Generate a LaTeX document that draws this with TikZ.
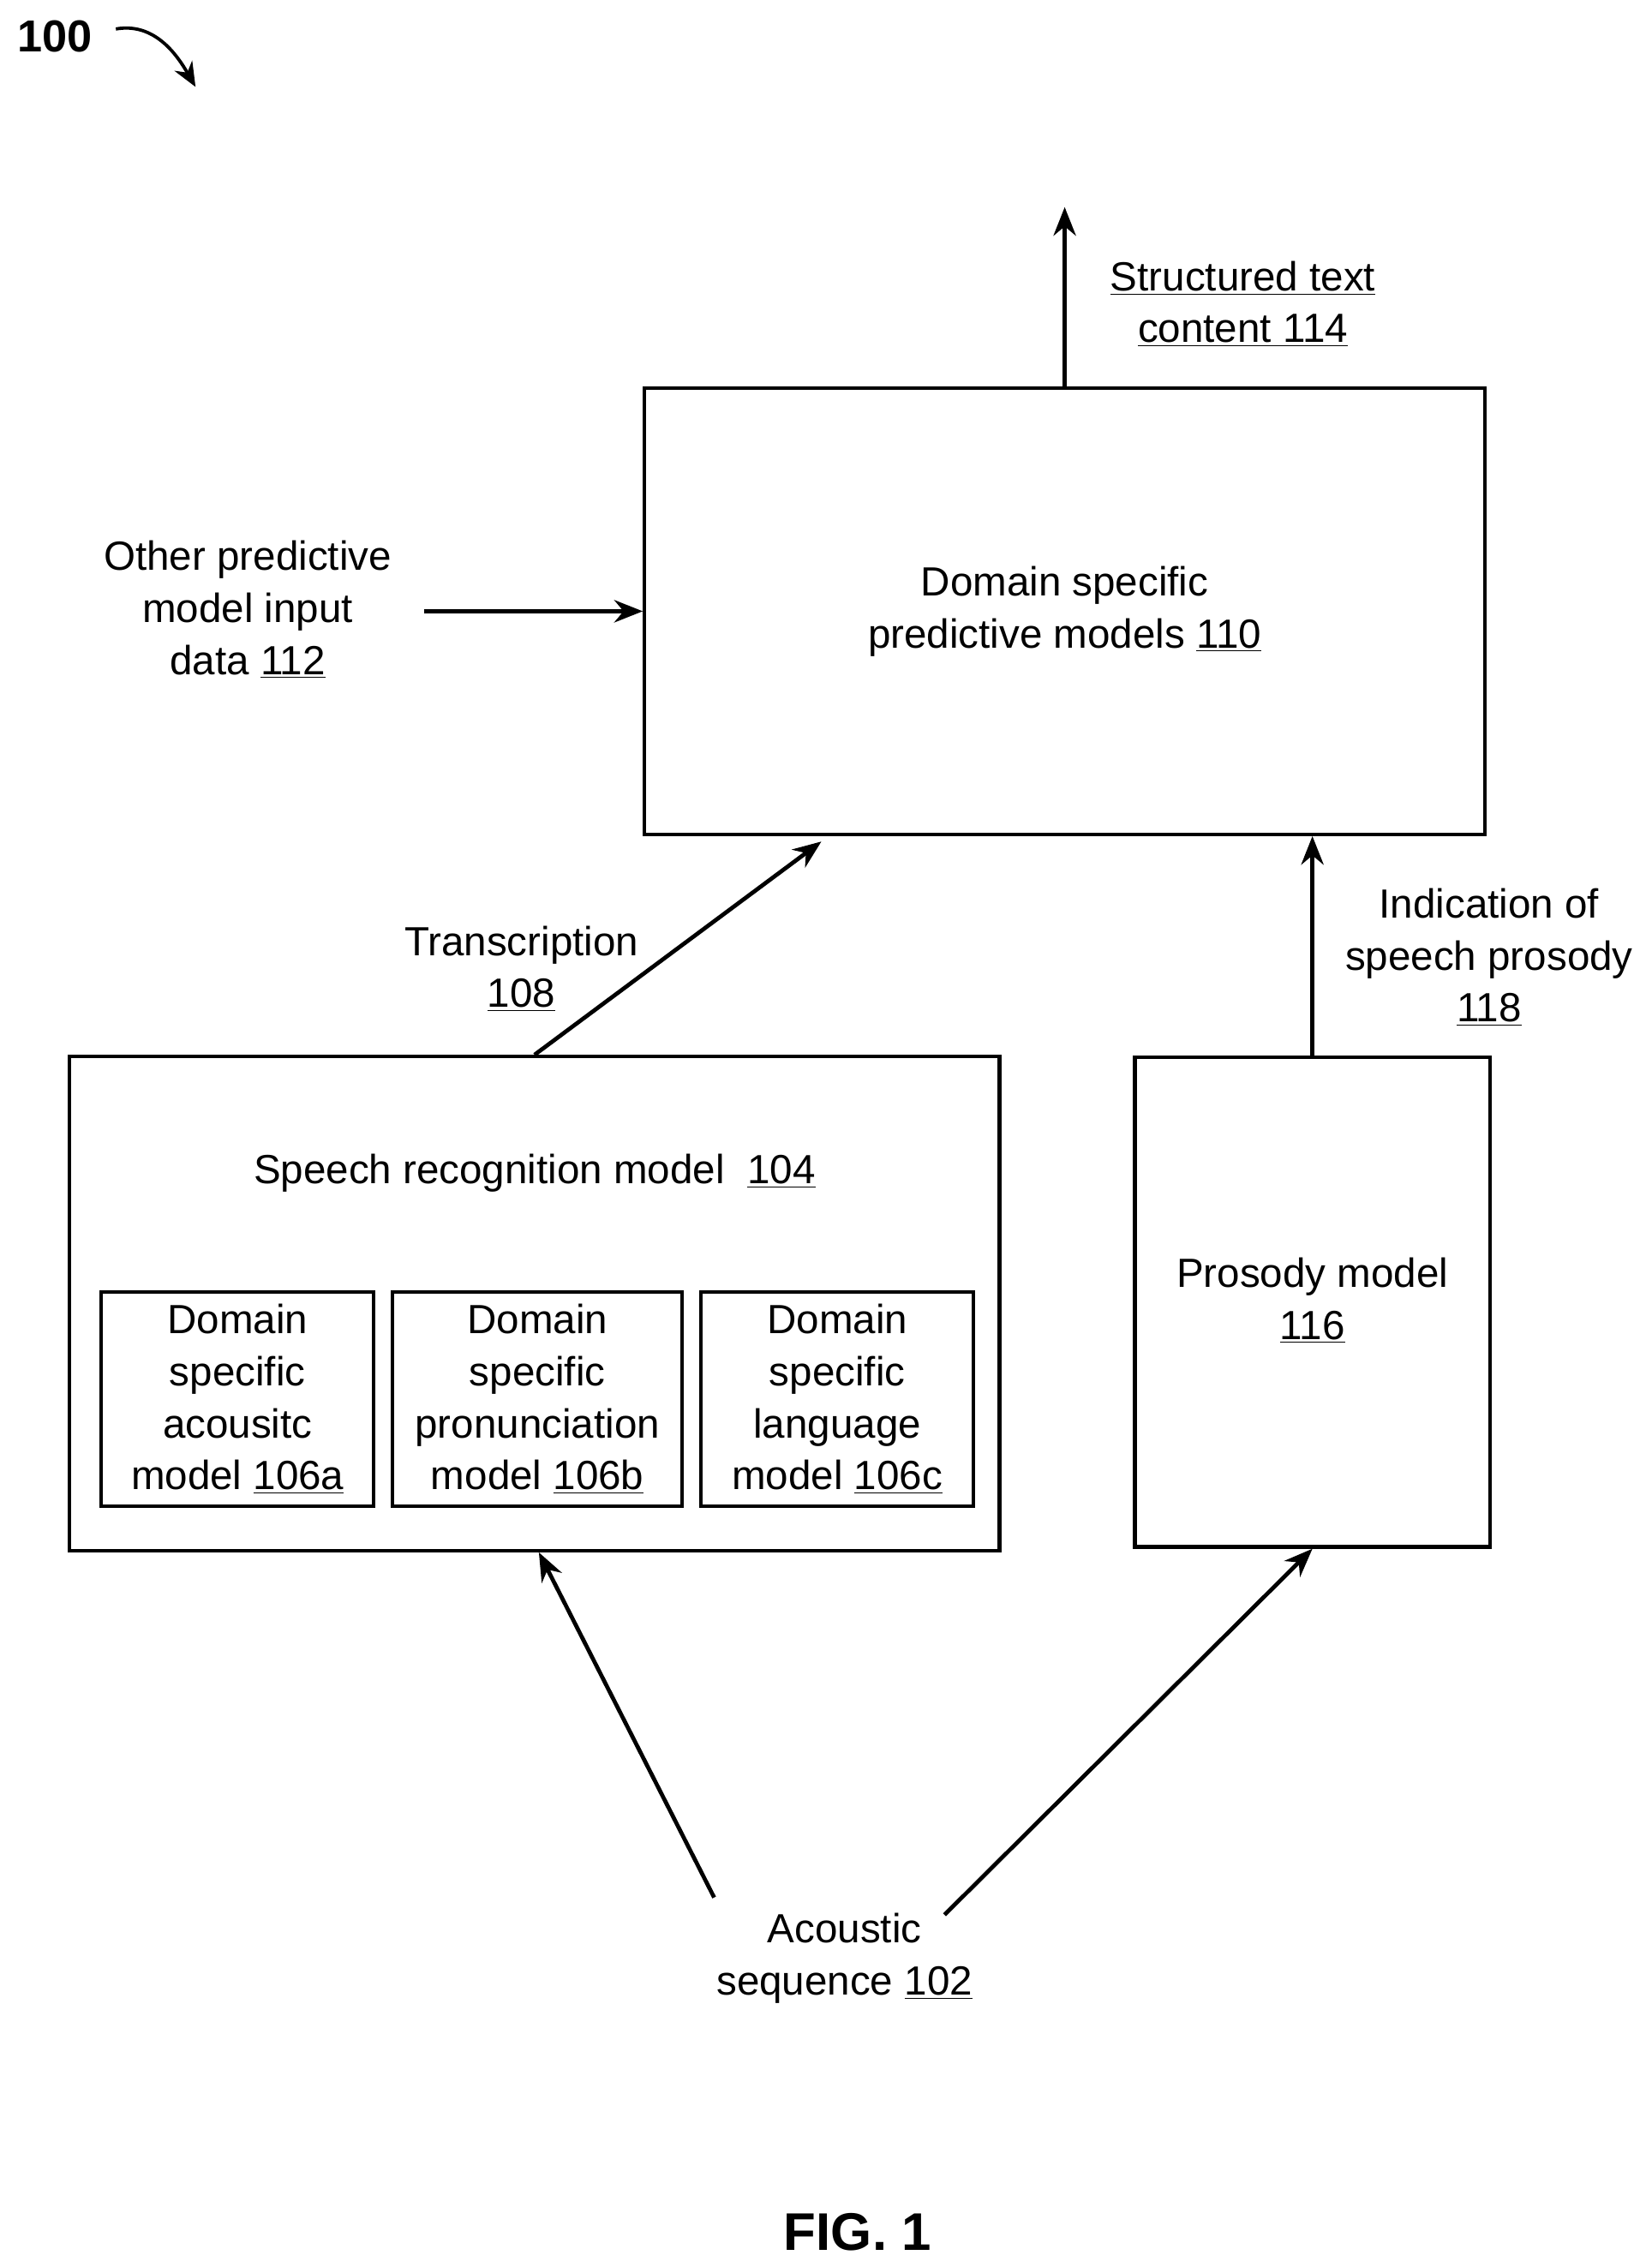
\documentclass[tikz,border=0pt]{standalone}
\usepackage{fontspec}
\setmainfont{Liberation Sans}
\usetikzlibrary{arrows.meta}
\usetikzlibrary{positioning}

\begin{document}
\begin{tikzpicture}[
        x=0.025cm, y=-0.025cm,
        line width=1.8pt,
        every node/.style={font=\fontsize{20}{25.5}\selectfont, align=center, inner sep=0pt},
        block/.style = {draw, line width=1.8pt},
        flow/.style = {-{Stealth[length=14pt,width=11pt]}, line width=2pt}
        ]
        \useasboundingbox (0,0) rectangle (1140,1561);
        % boxes
        \node[block, minimum width=580*0.025cm, minimum height=308*0.025cm] (Domain) at (735,422) {Domain specific\\predictive models \underline{110}};
        \node[block, minimum width=642*0.025cm, minimum height=341*0.025cm] (Speech) at (369,900) {};
        \node (SpeechTitle) at (369,810) {Speech recognition model\ \ \underline{104}};
        \node[block, minimum width=188*0.025cm, minimum height=148*0.025cm] (Acoustic) at (164,966) {Domain\\specific\\acousitc\\model \underline{106a}};
        \node[block, minimum width=200*0.025cm, minimum height=148*0.025cm] (Pronun) at (371,966) {Domain\\specific\\pronunciation\\model \underline{106b}};
        \node[block, minimum width=188*0.025cm, minimum height=148*0.025cm] (Language) at (578,966) {Domain\\specific\\language\\model \underline{106c}};
        \node[block, minimum width=245*0.025cm, minimum height=338*0.025cm] (Prosody) at (906,899) {};
        \node (ProsodyText) at (906,898) {Prosody model\\\underline{116}};
        % free texts
        \node (Seq) at (583,1352) {Acoustic\\sequence \underline{102}};
        \node (Other) at (171,421) {Other predictive\\model input\\data \underline{112}};
        \node (Trans) at (360,669) {Transcription\\\underline{108}};
        \node (Indic) at (1028,661) {Indication of\\speech prosody\\\underline{118}};
        \node (Struct) at (858,210) {\underline{Structured text}\\\underline{content 114}};
        \node[font=\fontsize{22}{26}\selectfont\bfseries] (Num) at (38,25) {100};
        \node[font=\fontsize{26}{30}\selectfont\bfseries] (Fig) at (592,1541) {FIG. 1};
        % connectors
        \coordinate (SeqL) at (493,1310);
        \coordinate (SeqR) at (652,1322);
        \coordinate (OtherE) at (293,422);
        \coordinate (Top) at (735,143);
        \coordinate (NumA) at (80,20);
        \coordinate (NumB) at (135,60);
        \draw[flow] (SeqL) -- (Speech.south -| 372,0);
        \draw[flow] (SeqR) -- (Prosody.south);
        \draw[flow] (Speech.north) -- (567,581);
        \draw[flow] (Prosody.north) -- (Domain.south -| Prosody.north);
        \draw[flow] (Domain.north) -- (Top);
        \draw[flow] (OtherE) -- (Domain.west |- OtherE);
        \draw[-{Stealth[length=12pt,width=10pt]}, line width=1.6pt] (NumA) to[out=10,in=120] (NumB);
\end{tikzpicture}
\end{document}
